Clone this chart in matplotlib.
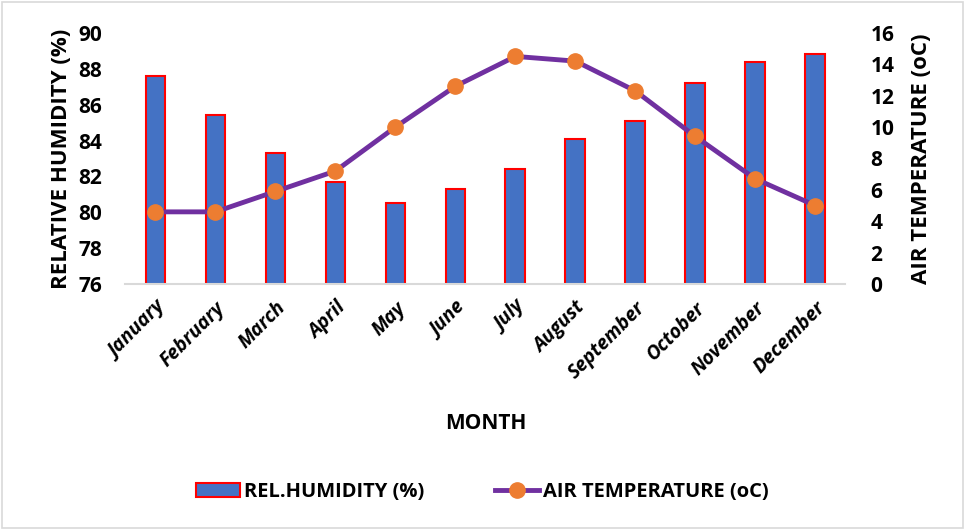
import matplotlib.pyplot as plt
from matplotlib.patches import Rectangle
import numpy as np

months = ["January", "February", "March", "April", "May", "June", "July",
          "August", "September", "October", "November", "December"]
humidity = [87.6, 85.4, 83.3, 81.7, 80.5, 81.3, 82.4, 84.1, 85.1, 87.2, 88.4, 88.8]
air_temp = [4.6, 4.6, 5.9, 7.2, 10.0, 12.6, 14.5, 14.2, 12.3, 9.4, 6.7, 5.0]

plt.rcParams['font.family'] = ['Open Sans', 'DejaVu Sans']
plt.rcParams['font.weight'] = 'bold'

fig = plt.figure(figsize=(9.65, 5.3), dpi=100)
ax = fig.add_axes([0.130, 0.464, 0.746, 0.474])
x = np.arange(len(months))

bars = ax.bar(x, humidity, width=0.33, bottom=0, color='#4472C4',
              edgecolor='#FF0000', linewidth=1.5, label='REL.HUMIDITY (%)', zorder=2)
ax.set_ylim(76, 90)
ax.set_yticks(range(76, 91, 2))
ax.set_xlim(-0.5, len(months) - 0.5)
ax.set_xticks(x)
ax.set_xticklabels(months, rotation=45, ha='right', rotation_mode='anchor',
                   fontsize=14, fontweight='bold', fontstyle='italic')
ax.tick_params(axis='y', length=0, labelsize=15, pad=17)
ax.tick_params(axis='x', length=0, pad=10, labelsize=14)
for s in ['top', 'right', 'left']:
    ax.spines[s].set_visible(False)
ax.spines['bottom'].set_color('#D9D9D9')
ax.spines['bottom'].set_linewidth(1.5)
ax.set_ylabel("RELATIVE HUMIDITY (%)", fontsize=16, fontweight='bold', labelpad=4)
ax.set_xlabel("MONTH", fontsize=15, fontweight='bold', labelpad=22)

ax2 = ax.twinx()
line, = ax2.plot(x, air_temp, color='#7030A0', linewidth=3.5, marker='o',
                 markersize=11, markerfacecolor='#ED7D31', markeredgecolor='#ED7D31',
                 label='AIR TEMPERATURE (oC)', zorder=3)
ax2.set_ylim(0, 16)
ax2.set_yticks(range(0, 17, 2))
ax2.tick_params(axis='y', length=0, labelsize=15, pad=18)
for s in ['top', 'right', 'left', 'bottom']:
    ax2.spines[s].set_visible(False)
ax2.set_ylabel("AIR TEMPERATURE (oC)", fontsize=16, fontweight='bold', labelpad=12)

fig.legend([bars, line], ['REL.HUMIDITY (%)', 'AIR TEMPERATURE (oC)'],
           loc='center', bbox_to_anchor=(0.5, 0.072), ncol=2, frameon=False,
           fontsize=14.5, handlelength=2.2, columnspacing=3.5, handletextpad=0.2)

fig.patches.append(Rectangle((0.002, 0.003), 0.996, 0.994, transform=fig.transFigure,
                             fill=False, edgecolor='#D9D9D9', linewidth=1.2))

fig.savefig("out.png", dpi=100)
